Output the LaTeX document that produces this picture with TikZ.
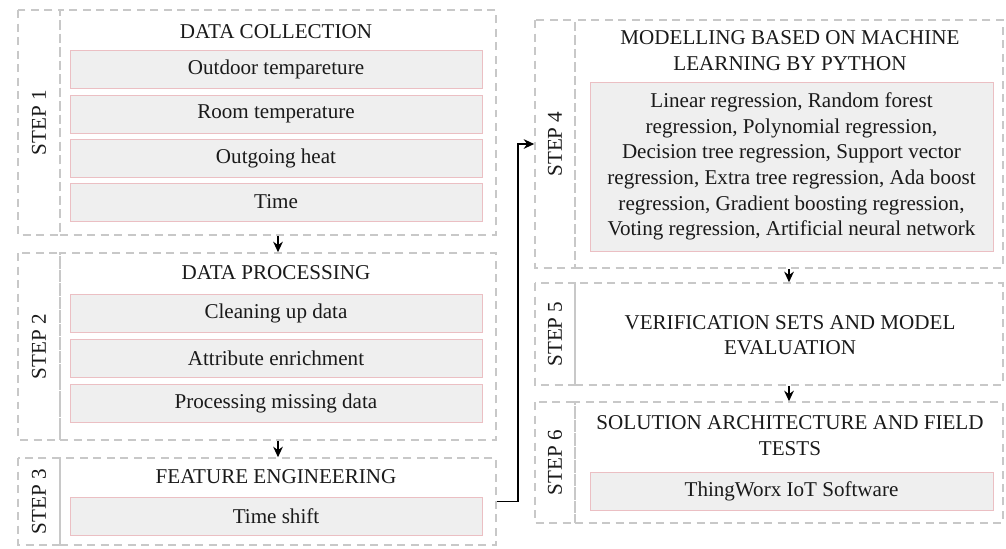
\documentclass[tikz,border=0pt]{standalone}
\usepackage{fontspec}
\setmainfont{Liberation Serif}
\usetikzlibrary{arrows.meta}

\definecolor{dashgray}{HTML}{C8C8C8}
\definecolor{itemfill}{HTML}{EFEFEF}
\definecolor{itemline}{HTML}{EBBFC3}
\definecolor{textdark}{HTML}{1A1A1A}

\begin{document}
\begin{tikzpicture}[x=0.02cm, y=-0.02cm,
    font=\fontsize{12}{14.6}\selectfont, text=textdark,
    stepcol/.style={draw=dashgray, line width=0.9pt, dash pattern=on 0.16cm off 0.11cm, rectangle, inner sep=0pt, rotate=90},
    stepbox/.style={draw=dashgray, line width=0.9pt, dash pattern=on 0.16cm off 0.11cm, rectangle, inner sep=0pt},
    item/.style={draw=itemline, line width=0.5pt, fill=itemfill, rectangle, minimum width=8.24cm, minimum height=0.76cm, inner sep=0pt},
    title/.style={align=center, inner sep=0pt},
    flow/.style={-{Stealth[length=6pt, width=5.5pt]}, line width=1pt, black}]
				\useasboundingbox[fill=white] (0,0) rectangle (1006,548);

				% Step 1
				\node[stepcol, minimum width=4.5cm, minimum height=0.84cm] (l1) at (39,122.5) {STEP 1};
				\node[stepbox, minimum width=8.72cm, minimum height=4.5cm] (c1) at (278,122.5) {};
				\node[title] (t1) at (276,32) {DATA COLLECTION};
				\node[item] (i11) at (276,69) {Outdoor tempareture};
				\node[item] (i12) at (276,114) {Room temperature};
				\node[item] (i13) at (276,158) {Outgoing heat};
				\node[item] (i14) at (276,202) {Time};

				% Step 2
				\node[stepcol, minimum width=3.74cm, minimum height=0.84cm] (l2) at (39,346.5) {STEP 2};
				\node[stepbox, minimum width=8.72cm, minimum height=3.74cm] (c2) at (278,346.5) {};
				\node[title] (t2) at (276,273) {DATA PROCESSING};
				\node[item] (i21) at (276,313.5) {Cleaning up data};
				\node[item] (i22) at (276,358) {Attribute enrichment};
				\node[item] (i23) at (276,403) {Processing missing data};

				% Step 3
				\node[stepcol, minimum width=1.74cm, minimum height=0.84cm] (l3) at (39,501.5) {STEP 3};
				\node[stepbox, minimum width=8.72cm, minimum height=1.74cm] (c3) at (278,501.5) {};
				\node[title] (t3) at (276,477) {FEATURE ENGINEERING};
				\node[item] (i31) at (276,516.5) {Time shift};

				% Step 4
				\node[stepcol, minimum width=4.96cm, minimum height=0.8cm] (l4) at (555,144) {STEP 4};
				\node[stepbox, minimum width=8.56cm, minimum height=4.96cm] (c4) at (789,144) {};
				\node[title] (t4) at (790,50.5) {MODELLING BASED ON MACHINE\\LEARNING BY PYTHON};
				\node[item, align=center, minimum width=8.06cm, minimum height=3.38cm] (i41) at (791.5,166.5)
					{Linear regression, Random forest\\regression, Polynomial regression,\\Decision tree regression, Support vector\\regression, Extra tree regression, Ada boost\\regression, Gradient boosting regression,\\Voting regression, Artificial neural network};

				% Step 5
				\node[stepcol, minimum width=2.04cm, minimum height=0.8cm] (l5) at (555,334) {STEP 5};
				\node[stepbox, minimum width=8.56cm, minimum height=2.04cm] (c5) at (789,334) {};
				\node[title] (t5) at (790,335) {VERIFICATION SETS AND MODEL\\EVALUATION};

				% Step 6
				\node[stepcol, minimum width=2.42cm, minimum height=0.8cm] (l6) at (555,462.5) {STEP 6};
				\node[stepbox, minimum width=8.56cm, minimum height=2.42cm] (c6) at (789,462.5) {};
				\node[title] (t6) at (790,435.5) {SOLUTION ARCHITECTURE AND FIELD\\TESTS};
				\node[item, minimum width=8.06cm] (i61) at (791.5,491) {ThingWorx IoT Software};

				% Connections
				\coordinate (bend) at (518,144);
				\draw[flow] (c1.south) -- (c2.north);
				\draw[flow] (c2.south) -- (c3.north);
				\draw[flow] (c3.east) -| (bend) -- (l4.north);
				\draw[flow] (c4.south) -- (c5.north);
				\draw[flow] (c5.south) -- (c6.north);
			\end{tikzpicture}
\end{document}
